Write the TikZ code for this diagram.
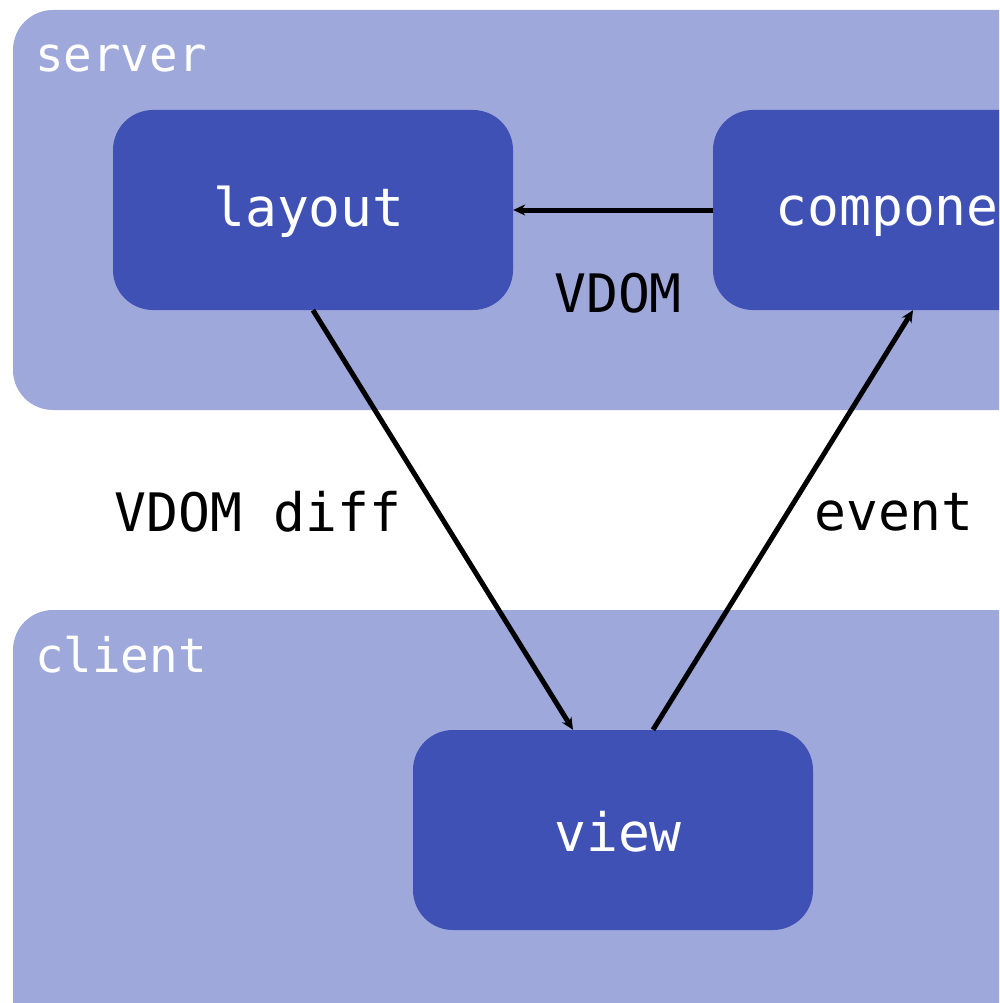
\documentclass[tikz,border=0pt]{standalone}
\usepackage{fontspec}
\setmainfont{DejaVu Sans Mono}
\usetikzlibrary{arrows.meta}
\definecolor{clusterfill}{HTML}{9FA8DA}
\definecolor{boxfill}{HTML}{3F51B5}
\tikzset{
  cluster/.style={fill=clusterfill, draw=none, rounded corners=40pt},
  clustertitle/.style={text=white, anchor=base west, inner sep=0pt, font=\fontsize{47.5}{47.5}\selectfont},
  procbox/.style={fill=boxfill, draw=none, rounded corners=40pt, minimum width=400pt, minimum height=200pt, inner sep=0pt},
  procname/.style={text=white, inner sep=0pt, font=\fontsize{53}{53}\selectfont},
  edgelabel/.style={text=black, inner sep=0pt, font=\fontsize{53}{53}\selectfont},
  flow/.style={line width=5pt, -{Stealth[length=12pt,width=11pt]}},
}
\begin{document}
\begin{tikzpicture}[x=1pt, y=-1pt]
  \useasboundingbox (0,0) rectangle (999,1003);
  \clip (0,0) rectangle (999,1003);
  % server and client groups
  \fill[cluster] (13,10) rectangle (1200,410);
  \fill[cluster] (13,610) rectangle (1200,1200);
  \node[clustertitle] (servertitle) at (35,72) {server};
  \node[clustertitle] (clienttitle) at (35,672) {client};
  % processing steps
  \node[procbox] (layout) at (313,210) {};
  \node[procbox] (component) at (913,210) {};
  \node[procbox] (view) at (613,830) {};
  \node[procname] (layoutname) at (309,212) {layout};
  \node[procname] (componentname) at (919,212) {component};
  \node[procname] (viewname) at (618,832) {view};
  % data flow
  \draw[flow] (component.west) -- (layout.east);
  \draw[flow] (layout.south) -- ([xshift=-40pt]view.north);
  \draw[flow] ([xshift=40pt]view.north) -- (component.south);
  \node[edgelabel] (vdom) at (618,293) {VDOM};
  \node[edgelabel] (vdomdiff) at (258,512) {VDOM diff};
  \node[edgelabel] (event) at (894,512) {event};
\end{tikzpicture}
\end{document}
